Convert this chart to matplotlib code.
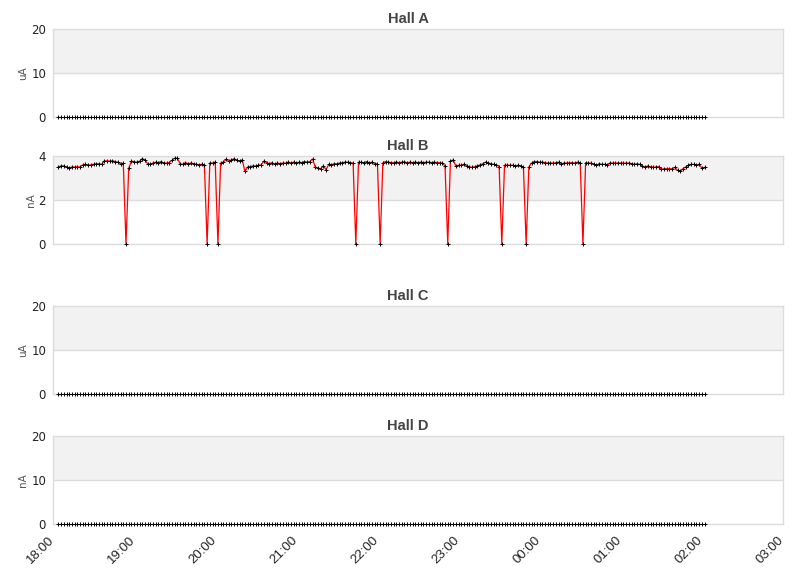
import numpy as np
import matplotlib
matplotlib.use('Agg')
import matplotlib.pyplot as plt
import matplotlib.dates as mdates
import matplotlib.transforms as mtransforms

"""
Beam current per hall, 2-minute samples
"""

start_time = np.datetime64('2024-01-01T18:04')
step_minutes = 2

hall_names = ['Hall A', 'Hall B', 'Hall C', 'Hall D']
hall_units = ['uA', 'nA', 'uA', 'nA']
hall_ylims = [20, 4, 20, 20]

hall_b = [
    3.50, 3.55, 3.55, 3.50, 3.45, 3.50, 3.50, 3.52, 3.50, 3.60,
    3.62, 3.58, 3.60, 3.62, 3.65, 3.65, 3.62, 3.78, 3.78, 3.77,
    3.78, 3.75, 3.72, 3.65, 3.67, 0.00, 3.44, 3.77, 3.74, 3.72,
    3.76, 3.88, 3.82, 3.65, 3.62, 3.68, 3.72, 3.70, 3.75, 3.68,
    3.68, 3.70, 3.80, 3.90, 3.90, 3.65, 3.62, 3.70, 3.65, 3.68,
    3.65, 3.62, 3.60, 3.62, 3.60, 0.00, 3.68, 3.68, 3.72, 0.00,
    3.68, 3.72, 3.85, 3.78, 3.82, 3.88, 3.80, 3.78, 3.82, 3.30,
    3.50, 3.52, 3.55, 3.55, 3.58, 3.60, 3.77, 3.70, 3.65, 3.70,
    3.62, 3.68, 3.65, 3.68, 3.68, 3.72, 3.68, 3.72, 3.68, 3.72,
    3.70, 3.75, 3.72, 3.75, 3.86, 3.50, 3.45, 3.42, 3.55, 3.38,
    3.62, 3.60, 3.65, 3.65, 3.68, 3.70, 3.72, 3.72, 3.70, 3.68,
    0.00, 3.72, 3.72, 3.70, 3.75, 3.68, 3.72, 3.65, 3.65, 0.00,
    3.70, 3.75, 3.72, 3.70, 3.70, 3.72, 3.70, 3.72, 3.74, 3.68,
    3.72, 3.70, 3.72, 3.70, 3.72, 3.70, 3.72, 3.72, 3.70, 3.72,
    3.70, 3.70, 3.68, 3.55, 0.00, 3.78, 3.82, 3.55, 3.58, 3.58,
    3.62, 3.55, 3.52, 3.48, 3.52, 3.55, 3.60, 3.65, 3.72, 3.68,
    3.65, 3.62, 3.60, 3.52, 0.00, 3.58, 3.58, 3.58, 3.58, 3.55,
    3.58, 3.55, 3.48, 0.00, 3.50, 3.68, 3.75, 3.75, 3.72, 3.72,
    3.70, 3.68, 3.68, 3.68, 3.70, 3.72, 3.62, 3.68, 3.68, 3.68,
    3.70, 3.68, 3.72, 3.68, 0.00, 3.70, 3.68, 3.68, 3.62, 3.58,
    3.65, 3.62, 3.62, 3.58, 3.68, 3.68, 3.68, 3.68, 3.68, 3.68,
    3.68, 3.68, 3.65, 3.62, 3.65, 3.62, 3.55, 3.48, 3.55, 3.50,
    3.50, 3.50, 3.52, 3.40, 3.42, 3.42, 3.42, 3.42, 3.48, 3.35,
    3.30, 3.42, 3.50, 3.58, 3.62, 3.62, 3.58, 3.62, 3.45, 3.48,
]
hall_a = [0.0] * len(hall_b)
hall_c = [0.0] * len(hall_b)
hall_d = [0.0] * len(hall_b)

hour_labels = ['18:00', '19:00', '20:00', '21:00', '22:00',
               '23:00', '00:00', '01:00', '02:00', '03:00']

times = start_time + np.arange(len(hall_b)) * np.timedelta64(step_minutes, 'm')
times = times.astype('datetime64[s]').astype(object)

x_start = np.datetime64('2024-01-01T18:00').astype(object)
x_end = np.datetime64('2024-01-02T03:00').astype(object)
tick_times = (np.datetime64('2024-01-01T18:00')
              + np.arange(len(hour_labels)) * np.timedelta64(1, 'h')).astype('datetime64[s]').astype(object)

# panel boxes in pixels: (top, bottom)
W, H = 811, 578
panel_px = [(29, 117), (156, 244), (306, 394), (436, 524)]
left_px, right_px = 53, 783
title_x_px = 408

grid_col = '#dcdcdc'
band_col = '#f2f2f2'
text_col = '#444444'


def main():
    fig = plt.figure(figsize=(W / 100, H / 100), dpi=100)
    series = [hall_a, hall_b, hall_c, hall_d]
    for k in range(4):
        top, bot = panel_px[k]
        ax = fig.add_axes([left_px / W, 1 - bot / H,
                           (right_px - left_px) / W, (bot - top) / H])
        ymax = hall_ylims[k]
        ax.set_ylim(0, ymax)
        ax.set_xlim(mdates.date2num(x_start), mdates.date2num(x_end))
        ax.axhspan(ymax / 2, ymax, color=band_col, lw=0, zorder=0)
        ax.axhline(ymax / 2, color=grid_col, lw=1, zorder=1)
        for s in ax.spines.values():
            s.set_color(grid_col)
            s.set_linewidth(1)
        ax.set_yticks([0, ymax / 2, ymax])
        ax.set_yticklabels(['%g' % v for v in [0, ymax / 2, ymax]],
                           fontsize=8.5, color='#222222')
        ax.tick_params(axis='y', length=0, pad=5)
        ax.set_ylabel(hall_units[k], fontsize=7.5, color='#555555', labelpad=2)
        ax.set_title(hall_names[k], fontsize=10.5, fontweight='bold',
                     color=text_col, family='Liberation Sans', pad=4,
                     x=(title_x_px - left_px) / (right_px - left_px))
        ax.set_xticks(mdates.date2num(tick_times))
        ax.tick_params(axis='x', length=0)
        if k == 3:
            ax.set_xticklabels(hour_labels, rotation=45, ha='right',
                               rotation_mode='anchor', fontsize=9.5,
                               family='Liberation Sans', color='#222222')
            ax.tick_params(axis='x', pad=7)
            shift = mtransforms.ScaledTranslation(-5 / 100, 0, fig.dpi_scale_trans)
            for lab in ax.get_xticklabels():
                lab.set_transform(lab.get_transform() + shift)
        else:
            ax.set_xticklabels([])
        t = mdates.date2num(times)
        if k == 1:
            ax.plot(t, series[k], color='red', lw=0.9, zorder=3, clip_on=False)
        ax.plot(t, series[k], ls='none', marker='+', ms=2.4, mew=0.7,
                color='black', zorder=4, clip_on=False)

    fig.savefig('out.png', dpi=100)


if __name__ == '__main__':
    main()
